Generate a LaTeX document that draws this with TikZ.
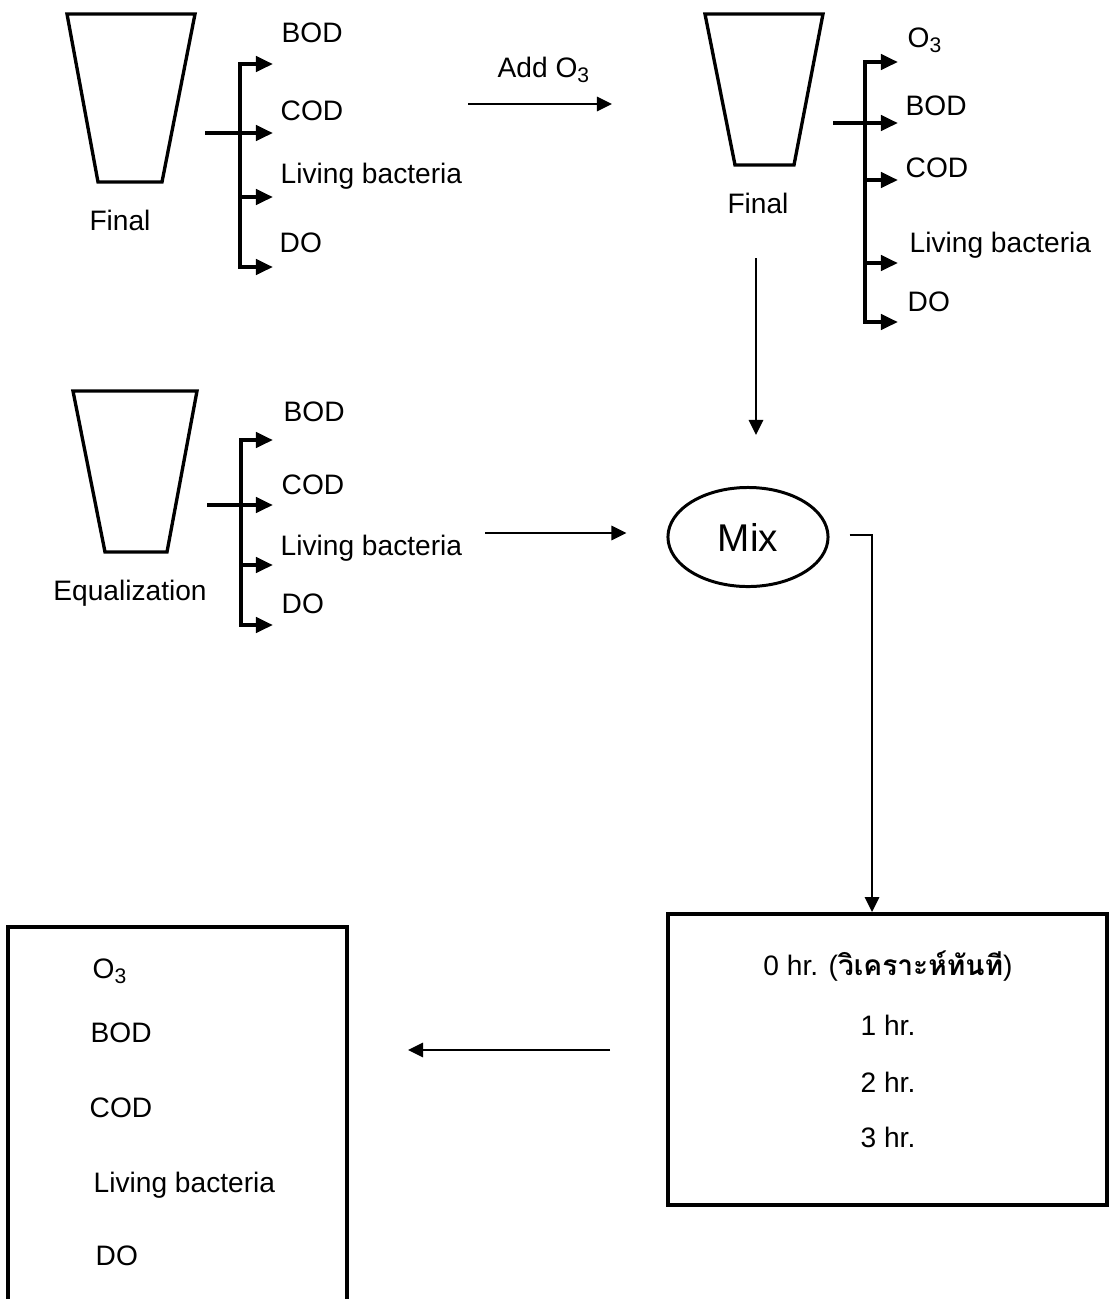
\documentclass[tikz,border=0pt]{standalone}
\usepackage{fontspec}
\setmainfont{Liberation Sans}
\newfontfamily\thaifont[Script=Thai]{Loma}
\usetikzlibrary{arrows.meta}
\usetikzlibrary{shapes.geometric}
\usetikzlibrary{calc}

\tikzset{
  cupline/.style={line width=0.95pt, line join=miter},
  brk/.style={line width=1.15pt, line cap=rect},
  brkarrow/.style={line width=1.15pt, -{Triangle[length=1.7mm,width=1.5mm]}},
  flow/.style={line width=0.8pt, -{Triangle[length=1.5mm,width=1.4mm]}},
  boxline/.style={line width=1pt},
  lbl/.style={anchor=base west, inner sep=0pt},
  cuplabel/.style={anchor=base, inner sep=0pt},
}

\begin{document}
\begin{tikzpicture}[x=0.01cm, y=-0.01cm, font=\fontsize{8pt}{9.6pt}\selectfont]
  \useasboundingbox (0,0) rectangle (1109,1299);

  % sample cups
  \draw[cupline] (67,14) -- (195,14) -- (162,182) -- (98,182) -- cycle;
  \draw[cupline] (705,14) -- (823,14) -- (794,165) -- (735,165) -- cycle;
  \draw[cupline] (73,391) -- (197,391) -- (167,552) -- (105,552) -- cycle;
  \node[cuplabel] (final1) at (120,230) {Final};
  \node[cuplabel] (final2) at (758,213) {Final};
  \node[cuplabel] (equal) at (130,600) {Equalization};

  % first bracket
  \coordinate (b1top) at (240,64);
  \coordinate (b1bot) at (240,267);
  \draw[brk] (b1top) -- (b1bot);
  \draw[brkarrow] (b1top) -- (273,64);
  \draw[brkarrow] (205,133) -- (273,133);
  \draw[brkarrow] (240,197) -- (273,197);
  \draw[brkarrow] (b1bot) -- (273,267);
  \node[lbl] (bod1) at (281,42) {BOD};
  \node[lbl] (cod1) at (280,120) {COD};
  \node[lbl] (bac1) at (280,183) {Living bacteria};
  \node[lbl] (do1) at (279,252) {DO};

  % ozone step
  \coordinate (addin) at (468,104);
  \coordinate (addout) at (612,104);
  \draw[flow] (addin) -- (addout);
  \node[lbl] (addo3) at (497,77) {Add O\textsubscript{3}};

  % second bracket
  \coordinate (b2top) at (865,62);
  \coordinate (b2bot) at (865,322);
  \draw[brk] (b2top) -- (b2bot);
  \draw[brkarrow] (b2top) -- (898,62);
  \draw[brkarrow] (833,123) -- (898,123);
  \draw[brkarrow] (865,180) -- (898,180);
  \draw[brkarrow] (865,263) -- (898,263);
  \draw[brkarrow] (b2bot) -- (898,322);
  \node[lbl] (o32) at (907,47) {O\textsubscript{3}};
  \node[lbl] (bod2) at (905,115) {BOD};
  \node[lbl] (cod2) at (905,177) {COD};
  \node[lbl] (bac2) at (909,252) {Living bacteria};
  \node[lbl] (do2) at (907,311) {DO};

  % third bracket
  \coordinate (b3top) at (241,440);
  \coordinate (b3bot) at (241,625);
  \draw[brk] (b3top) -- (b3bot);
  \draw[brkarrow] (b3top) -- (273,440);
  \draw[brkarrow] (207,505) -- (273,505);
  \draw[brkarrow] (241,565) -- (273,565);
  \draw[brkarrow] (b3bot) -- (273,625);
  \node[lbl] (bod3) at (283,421) {BOD};
  \node[lbl] (cod3) at (281,494) {COD};
  \node[lbl] (bac3) at (280,555) {Living bacteria};
  \node[lbl] (do3) at (281,613) {DO};

  % mixing
  \node[draw, ellipse, line width=0.85pt, inner sep=0pt,
        minimum width=1.6cm, minimum height=0.99cm,
        font=\fontsize{11pt}{13pt}\selectfont] (mix) at (748,537) {Mix};
  \draw[flow] (756,258) -- ($(mix.north)+(8,-51)$);
  \draw[flow] (485,533) -- ($(mix.west)+(-40,-4)$);

  % sampling times
  \node[draw, boxline, inner sep=0pt, minimum width=4.39cm,
        minimum height=2.91cm] (timebox) at (887.5,1059.5) {};
  \node[cuplabel] (t0) at (888,975) {0 hr. ({\thaifont\bfseries วิเคราะห์ทันที})};
  \node[cuplabel] (t1) at (888,1035) {1 hr.};
  \node[cuplabel] (t2) at (888,1092) {2 hr.};
  \node[cuplabel] (t3) at (888,1147) {3 hr.};
  \draw[flow] ($(mix.east)+(20,-2)$) -| ($(timebox.north)+(-15.5,0)$);

  % results
  \draw[boxline] (8,1310) -- (8,927) -- (347,927) -- (347,1310);
  \node[lbl] (o3r) at (92,978) {O\textsubscript{3}};
  \node[lbl] (bodr) at (90,1042) {BOD};
  \node[lbl] (codr) at (89,1117) {COD};
  \node[lbl] (bacr) at (93,1192) {Living bacteria};
  \node[lbl] (dor) at (95,1265) {DO};
  \draw[flow] ($(timebox.west)+(-56,-9.5)$) -- ($(347,1050)+(61,0)$);
\end{tikzpicture}
\end{document}
